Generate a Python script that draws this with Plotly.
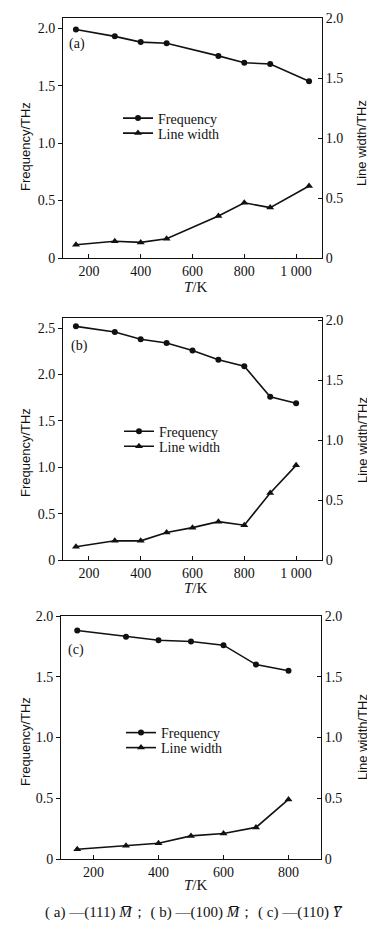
import plotly.graph_objects as go

# ---------------- data ----------------
T_a = [150, 300, 400, 500, 700, 800, 900, 1050]
freq_a = [1.99, 1.93, 1.88, 1.87, 1.76, 1.70, 1.69, 1.54]
lw_a = [0.11, 0.14, 0.13, 0.16, 0.35, 0.46, 0.42, 0.60]

T_b = [150, 300, 400, 500, 600, 700, 800, 900, 1000]
freq_b = [2.52, 2.46, 2.38, 2.34, 2.26, 2.16, 2.09, 1.76, 1.69]
lw_b = [0.11, 0.16, 0.16, 0.23, 0.27, 0.32, 0.29, 0.56, 0.79]

T_c = [150, 300, 400, 500, 600, 700, 800]
freq_c = [1.88, 1.83, 1.80, 1.79, 1.76, 1.60, 1.55]
lw_c = [0.08, 0.11, 0.13, 0.19, 0.21, 0.26, 0.49]

x_ticks_ab = [200, 400, 600, 800, 1000]
x_ticktext_ab = ["200", "400", "600", "800", "1 000"]
x_ticks_c = [200, 400, 600, 800]
x_ticktext_c = ["200", "400", "600", "800"]
y_ticks_2 = [0, 0.5, 1.0, 1.5, 2.0]
y_ticktext_2 = ["0", "0.5", "1.0", "1.5", "2.0"]
y_ticks_25 = [0, 0.5, 1.0, 1.5, 2.0, 2.5]
y_ticktext_25 = ["0", "0.5", "1.0", "1.5", "2.0", "2.5"]

panel_labels = ["(a)", "(b)", "(c)"]
caption = ("( a) —(111) <i>M\u0305</i>； ( b) —(100) <i>M\u0305</i>； "
           "( c) —(110) <i>Y\u0305</i>")

# ---------------- styling ----------------
# the page body has an 8px default margin, so the figure is sized to fit
# the 375x944 window and positions are given in window pixels
OFF = 8
W, H = 375 - OFF, 944 - OFF
SERIF = "Liberation Serif, Times New Roman, serif"
SANS = "Liberation Sans, Arial, sans-serif"
INK = "#111111"


def px_x(x):
    return (x - OFF) / W


def px_y(y):
    return 1 - (y - OFF) / H


panels = [
    dict(T=T_a, f=freq_a, w=lw_a, xr=[100, 1100], xt=x_ticks_ab, xtt=x_ticktext_ab,
         yl=[0, 2.09], ylt=y_ticks_2, yltt=y_ticktext_2, yr=[0, 2.0],
         box=(63, 322, 18, 258), lab=(77, 44), leg=(118, 118.5, 133.5),
         ttl_y=147, ttr_y=143, tk_y=287),
    dict(T=T_b, f=freq_b, w=lw_b, xr=[100, 1100], xt=x_ticks_ab, xtt=x_ticktext_ab,
         yl=[0, 2.61], ylt=y_ticks_25, yltt=y_ticktext_25, yr=[0, 2.02],
         box=(63, 322, 318, 560), lab=(79, 346), leg=(119, 431.7, 446.7),
         ttl_y=453, ttr_y=440, tk_y=588),
    dict(T=T_c, f=freq_c, w=lw_c, xr=[100, 900], xt=x_ticks_c, xtt=x_ticktext_c,
         yl=[0, 2.0], ylt=y_ticks_2, yltt=y_ticktext_2, yr=[0, 2.0],
         box=(61, 321, 616, 859), lab=(76, 650), leg=(121, 733.0, 748.0),
         ttl_y=742, ttr_y=737, tk_y=885),
]

LEG_HALF = 16  # offset from legend top to its item centre, px

fig = go.Figure()
layout = dict(
    width=W, height=H,
    margin=dict(l=0, r=0, t=0, b=0, pad=0, autoexpand=False),
    paper_bgcolor="white", plot_bgcolor="white",
    showlegend=True,
    annotations=[],
)

legend_idx = 1
for i, p in enumerate(panels):
    n = i + 1
    xa = "x" if n == 1 else f"x{n}"
    yl_id = 2 * i + 1
    yr_id = 2 * i + 2
    yl = "y" if yl_id == 1 else f"y{yl_id}"
    yr = f"y{yr_id}"
    x0, x1, ytop, ybot = p["box"]

    leg_f = "legend" if legend_idx == 1 else f"legend{legend_idx}"
    leg_w = f"legend{legend_idx + 1}"

    fig.add_trace(go.Scatter(
        x=p["T"], y=p["f"], xaxis=xa, yaxis=yl, name="Frequency",
        mode="lines+markers", legend=leg_f,
        line=dict(color=INK, width=1.6),
        marker=dict(symbol="circle", size=6, color=INK),
    ))
    fig.add_trace(go.Scatter(
        x=p["T"], y=p["w"], xaxis=xa, yaxis=yr, name="Line width",
        mode="lines+markers", legend=leg_w,
        line=dict(color=INK, width=1.6),
        marker=dict(symbol="triangle-up", size=7, color=INK),
    ))

    lx, ly1, ly2 = p["leg"]
    for key, yy in ((leg_f, ly1), (leg_w, ly2)):
        layout[key] = dict(
            x=px_x(lx), y=px_y(yy - LEG_HALF), xanchor="left", yanchor="top",
            bgcolor="rgba(0,0,0,0)", borderwidth=0,
            font=dict(family=SERIF, size=14, color=INK),
            itemwidth=30,
        )
    legend_idx += 2

    xkey = "xaxis" if n == 1 else f"xaxis{n}"
    ylkey = "yaxis" if yl_id == 1 else f"yaxis{yl_id}"
    yrkey = f"yaxis{yr_id}"

    layout[xkey] = dict(
        domain=[px_x(x0), px_x(x1)], range=p["xr"], anchor=yl,
        showline=True, linecolor=INK, linewidth=1, mirror=True,
        ticks="inside", ticklen=4, tickcolor=INK,
        tickvals=p["xt"], ticktext=p["xtt"],
        tickfont=dict(family=SERIF, size=14, color=INK),
        showgrid=False, zeroline=False, automargin=False,
    )
    layout[ylkey] = dict(
        domain=[px_y(ybot), px_y(ytop)], range=p["yl"], anchor=xa,
        showline=True, linecolor=INK, linewidth=1,
        ticks="outside", ticklen=4, tickcolor=INK,
        tickvals=p["ylt"], ticktext=p["yltt"],
        tickfont=dict(family=SERIF, size=14, color=INK),
        showgrid=False, zeroline=False, automargin=False,
    )
    layout[yrkey] = dict(
        overlaying=yl, side="right", anchor=xa, range=p["yr"],
        showline=True, linecolor=INK, linewidth=1,
        ticks="inside", ticklen=4, tickcolor=INK,
        tickvals=y_ticks_2, ticktext=y_ticktext_2,
        tickfont=dict(family=SERIF, size=14, color=INK),
        showgrid=False, zeroline=False, automargin=False,
    )

    layout["annotations"].append(dict(
        text=panel_labels[i], x=px_x(p["lab"][0]), y=px_y(p["lab"][1]),
        xref="paper", yref="paper", showarrow=False,
        xanchor="center", yanchor="middle",
        font=dict(family=SERIF, size=14, color=INK),
    ))
    layout["annotations"].append(dict(
        text="Frequency/THz", x=px_x(25), y=px_y(p["ttl_y"]),
        xref="paper", yref="paper", showarrow=False, textangle=-90,
        xanchor="center", yanchor="middle",
        font=dict(family=SANS, size=13, color=INK),
    ))
    layout["annotations"].append(dict(
        text="Line width/THz", x=px_x(362), y=px_y(p["ttr_y"]),
        xref="paper", yref="paper", showarrow=False, textangle=-90,
        xanchor="center", yanchor="middle",
        font=dict(family=SANS, size=13, color=INK),
    ))
    layout["annotations"].append(dict(
        text="<i>T</i>/K", x=px_x(196), y=px_y(p["tk_y"]),
        xref="paper", yref="paper", showarrow=False,
        xanchor="center", yanchor="middle",
        font=dict(family=SERIF, size=15, color=INK),
    ))

layout["annotations"].append(dict(
    text=caption, x=px_x(194), y=px_y(912),
    xref="paper", yref="paper", showarrow=False,
    xanchor="center", yanchor="middle",
    font=dict(family=SERIF, size=15, color=INK),
))

fig.update_layout(**layout)
fig.write_html("out.html")
